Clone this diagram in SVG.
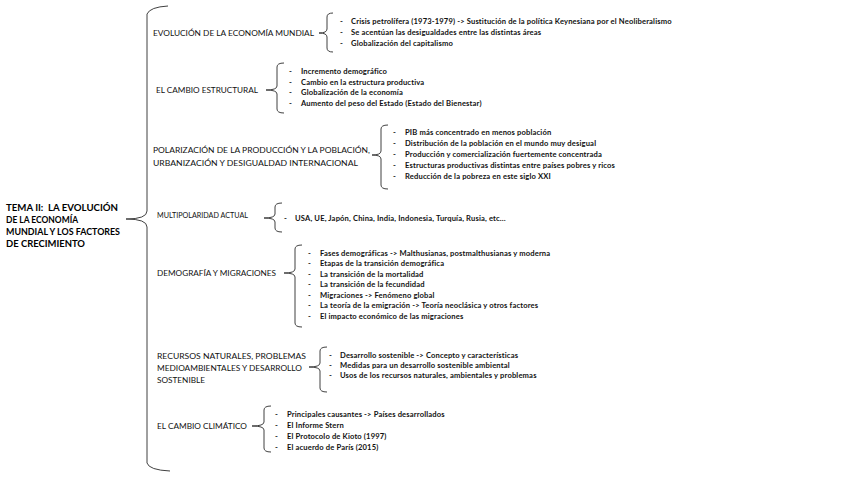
<svg xmlns="http://www.w3.org/2000/svg" width="848" height="477" viewBox="0 0 848 477">
<style>
.bg{fill:#fff}
.br{fill:none;stroke:#404040;stroke-width:1}
.t{font-family:Lato,"Noto Sans",sans-serif;font-weight:bold;font-size:9.5px;fill:#000}
.h{font-family:Lato,"Noto Sans",sans-serif;font-size:8px;fill:#111}
.i{font-family:Lato,"Noto Sans",sans-serif;font-weight:bold;font-size:7.6px;letter-spacing:0.15px;fill:#111}
</style>
<rect class="bg" width="848" height="477"/>
<g id="connectors">
<path class="br" d="M168 6 Q150 7 147 14 L147 211 Q147 219 126 219 Q147 219 147 227 L147 463 Q149 470 170 471"/>
<path class="br" d="M333 13 Q327 13 327 17 L327 29 Q327 33 319 33 Q327 33 327 37 L327 48 Q327 52 333 52"/>
<path class="br" d="M284 63 Q277 63 277 67 L277 86 Q277 90 266 90 Q277 90 277 94 L277 109 Q277 113 284 113"/>
<path class="br" d="M388 125 Q381 125 381 129 L381 151 Q381 155 372 155 Q381 155 381 159 L381 185 Q381 189 388 189"/>
<path class="br" d="M282 203 Q275 203 275 207 L275 214 Q275 218 264 218 Q275 218 275 222 L275 228 Q275 232 282 232"/>
<path class="br" d="M302 245 Q295 245 295 249 L295 269 Q295 273 284 273 Q295 273 295 277 L295 323 Q295 327 302 327"/>
<path class="br" d="M327 347 Q320 347 320 351 L320 363 Q320 367 309 367 Q320 367 320 371 L320 388 Q320 392 327 392"/>
<path class="br" d="M271 406 Q264 406 264 410 L264 422 Q264 426 252 426 Q264 426 264 430 L264 448 Q264 452 271 452"/>
</g>
<g id="title">
<text class="t" x="6" y="210.5" textLength="112" lengthAdjust="spacingAndGlyphs">TEMA II:&#160; LA EVOLUCIÓN</text>
<text class="t" x="6" y="222.8" textLength="72" lengthAdjust="spacingAndGlyphs">DE LA ECONOMÍA</text>
<text class="t" x="6" y="235.1" textLength="114" lengthAdjust="spacingAndGlyphs">MUNDIAL Y LOS FACTORES</text>
<text class="t" x="6" y="247.4" textLength="79" lengthAdjust="spacingAndGlyphs">DE CRECIMIENTO</text>
</g>
<g id="n1">
<text class="h" x="153" y="36" textLength="161" lengthAdjust="spacingAndGlyphs">EVOLUCIÓN DE LA ECONOMÍA MUNDIAL</text>
<text class="i" x="340" y="23.7">-</text><text class="i" x="351" y="23.7">Crisis petrolífera (1973-1979) -&gt; Sustitución de la política Keynesiana por el Neoliberalismo</text>
<text class="i" x="340" y="34.7">-</text><text class="i" x="351" y="34.7">Se acentúan las desigualdades entre las distintas áreas</text>
<text class="i" x="340" y="45.7">-</text><text class="i" x="351" y="45.7">Globalización del capitalismo</text>
</g>
<g id="n2">
<text class="h" x="156" y="93" textLength="102" lengthAdjust="spacingAndGlyphs">EL CAMBIO ESTRUCTURAL</text>
<text class="i" x="289" y="74.2">-</text><text class="i" x="301" y="74.2">Incremento demográfico</text>
<text class="i" x="289" y="84.7">-</text><text class="i" x="301" y="84.7">Cambio en la estructura productiva</text>
<text class="i" x="289" y="95.2">-</text><text class="i" x="301" y="95.2">Globalización de la economía</text>
<text class="i" x="289" y="105.7">-</text><text class="i" x="301" y="105.7">Aumento del peso del Estado (Estado del Bienestar)</text>
</g>
<g id="n3">
<text class="h" x="153" y="153" textLength="217" lengthAdjust="spacingAndGlyphs">POLARIZACIÓN DE LA PRODUCCIÓN Y LA POBLACIÓN,</text>
<text class="h" x="153" y="166" textLength="205" lengthAdjust="spacingAndGlyphs">URBANIZACIÓN Y DESIGUALDAD INTERNACIONAL</text>
<text class="i" x="393" y="134.7">-</text><text class="i" x="405" y="134.7">PIB más concentrado en menos población</text>
<text class="i" x="393" y="145.7">-</text><text class="i" x="405" y="145.7">Distribución de la población en el mundo muy desigual</text>
<text class="i" x="393" y="156.7">-</text><text class="i" x="405" y="156.7">Producción y comercialización fuertemente concentrada</text>
<text class="i" x="393" y="167.7">-</text><text class="i" x="405" y="167.7">Estructuras productivas distintas entre países pobres y ricos</text>
<text class="i" x="393" y="178.7">-</text><text class="i" x="405" y="178.7">Reducción de la pobreza en este siglo XXI</text>
</g>
<g id="n4">
<text class="h" x="157" y="217.5" textLength="91" lengthAdjust="spacingAndGlyphs">MULTIPOLARIDAD ACTUAL</text>
<text class="i" x="284" y="220.7">-</text><text class="i" x="295" y="220.7">USA, UE, Japón, China, India, Indonesia, Turquía, Rusia, etc…</text>
</g>
<g id="n5">
<text class="h" x="157" y="276" textLength="119" lengthAdjust="spacingAndGlyphs">DEMOGRAFÍA Y MIGRACIONES</text>
<text class="i" x="308" y="255.7">-</text><text class="i" x="320" y="255.7">Fases demográficas -&gt; Malthusianas, postmalthusianas y moderna</text>
<text class="i" x="308" y="266.2">-</text><text class="i" x="320" y="266.2">Etapas de la transición demográfica</text>
<text class="i" x="308" y="276.7">-</text><text class="i" x="320" y="276.7">La transición de la mortalidad</text>
<text class="i" x="308" y="287.2">-</text><text class="i" x="320" y="287.2">La transición de la fecundidad</text>
<text class="i" x="308" y="297.7">-</text><text class="i" x="320" y="297.7">Migraciones -&gt; Fenómeno global</text>
<text class="i" x="308" y="308.2">-</text><text class="i" x="320" y="308.2">La teoría de la emigración -&gt; Teoría neoclásica y otros factores</text>
<text class="i" x="308" y="318.7">-</text><text class="i" x="320" y="318.7">El impacto económico de las migraciones</text>
</g>
<g id="n6">
<text class="h" x="157" y="359" textLength="149" lengthAdjust="spacingAndGlyphs">RECURSOS NATURALES, PROBLEMAS</text>
<text class="h" x="157" y="371" textLength="145" lengthAdjust="spacingAndGlyphs">MEDIOAMBIENTALES Y DESARROLLO</text>
<text class="h" x="157" y="383" textLength="48" lengthAdjust="spacingAndGlyphs">SOSTENIBLE</text>
<text class="i" x="329" y="357.7">-</text><text class="i" x="340" y="357.7">Desarrollo sostenible -&gt; Concepto y características</text>
<text class="i" x="329" y="367.7">-</text><text class="i" x="340" y="367.7">Medidas para un desarrollo sostenible ambiental</text>
<text class="i" x="329" y="377.7">-</text><text class="i" x="340" y="377.7">Usos de los recursos naturales, ambientales y problemas</text>
</g>
<g id="n7">
<text class="h" x="157" y="429" textLength="90" lengthAdjust="spacingAndGlyphs">EL CAMBIO CLIMÁTICO</text>
<text class="i" x="275" y="416.7">-</text><text class="i" x="287" y="416.7">Principales causantes -&gt; Países desarrollados</text>
<text class="i" x="275" y="427.7">-</text><text class="i" x="287" y="427.7">El Informe Stern</text>
<text class="i" x="275" y="438.7">-</text><text class="i" x="287" y="438.7">El Protocolo de Kioto (1997)</text>
<text class="i" x="275" y="449.7">-</text><text class="i" x="287" y="449.7">El acuerdo de París (2015)</text>
</g>
</svg>
